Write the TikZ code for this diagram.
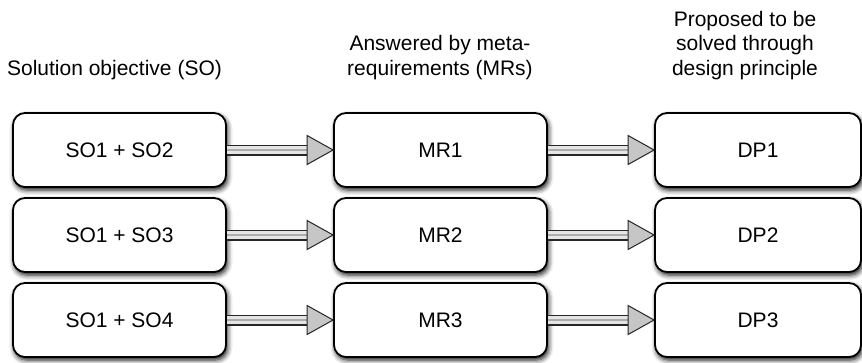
\documentclass[tikz,border=0pt]{standalone}
\usepackage{fontspec}
\setmainfont{Liberation Sans}
\usetikzlibrary{shadows.blur,calc}

\begin{document}
\begin{tikzpicture}[x=1pt,y=-1pt,
  txt/.style={font=\fontsize{21}{24.5}\selectfont, inner sep=0pt},
  box/.style={txt, draw=black, line width=1.8pt, rounded corners=12pt, fill=white,
    minimum width=213pt, minimum height=74pt,
    blur shadow={shadow xshift=1.5pt, shadow yshift=-3pt, shadow blur radius=5pt, shadow opacity=95}},
  hdr/.style={txt, align=center, anchor=base},
  shaftout/.style={line width=11pt, black!85},
  shaftin/.style={line width=7.5pt, gray!20},
  shaftmid/.style={line width=1.6pt, gray!65},
  headtip/.style={draw=black!85, fill=gray!45, line width=1pt, line join=miter},
]
\useasboundingbox (0,0) rectangle (862,362);

% column headings
\node[hdr] (h1) at (114.5,75) {Solution objective (SO)};
\node[hdr] (h2) at (440,75) {Answered by meta-\\requirements (MRs)};
\node[hdr] (h3) at (745,75) {Proposed to be\\solved through\\design principle};

% boxes
\node[box] (so1) at (119.5,150) {SO1 + SO2};
\node[box] (so2) at (119.5,235) {SO1 + SO3};
\node[box] (so3) at (119.5,320) {SO1 + SO4};
\node[box] (mr1) at (440.5,150) {MR1};
\node[box] (mr2) at (440.5,235) {MR2};
\node[box] (mr3) at (440.5,320) {MR3};
\node[box, minimum width=206pt] (dp1) at (758,150) {DP1};
\node[box, minimum width=206pt] (dp2) at (758,235) {DP2};
\node[box, minimum width=206pt] (dp3) at (758,320) {DP3};

% hollow triple-line arrows
\newcommand{\fatarrow}[2]{%
  \draw[shaftout] (#1.east) -- ($(#2.west)+(-25,0)$);
  \draw[shaftin]  (#1.east) -- ($(#2.west)+(-25,0)$);
  \draw[shaftmid] (#1.east) -- ($(#2.west)+(-25,0)$);
  \draw[headtip] ($(#2.west)+(-26,-14.5)$) -- (#2.west) -- ($(#2.west)+(-26,14.5)$) -- cycle;
}
\fatarrow{so1}{mr1}
\fatarrow{so2}{mr2}
\fatarrow{so3}{mr3}
\fatarrow{mr1}{dp1}
\fatarrow{mr2}{dp2}
\fatarrow{mr3}{dp3}
\end{tikzpicture}
\end{document}
